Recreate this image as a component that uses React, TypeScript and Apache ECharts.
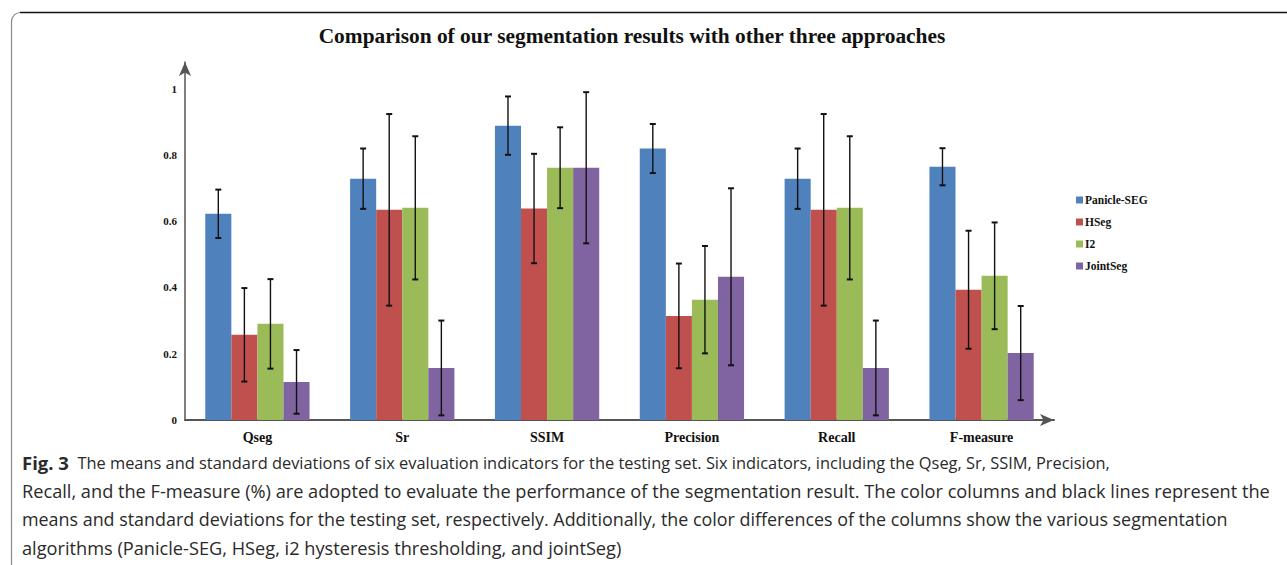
import React, { useEffect, useRef } from "react";
import * as echarts from "echarts";

const categories = ["Qseg", "Sr", "SSIM", "Precision", "Recall", "F-measure"];
const seriesNames = ["Panicle-SEG", "HSeg", "I2", "JointSeg"];
const panicleMean = [0.622, 0.728, 0.888, 0.819, 0.728, 0.764];
const panicleStd = [0.073, 0.091, 0.088, 0.074, 0.091, 0.056];
const hsegMean = [0.257, 0.634, 0.638, 0.314, 0.634, 0.393];
const hsegStd = [0.141, 0.289, 0.165, 0.158, 0.289, 0.178];
const i2Mean = [0.29, 0.64, 0.761, 0.363, 0.64, 0.435];
const i2Std = [0.135, 0.216, 0.122, 0.162, 0.216, 0.161];
const jointMean = [0.115, 0.157, 0.761, 0.432, 0.157, 0.202];
const jointStd = [0.096, 0.143, 0.228, 0.267, 0.143, 0.142];
const yTicks = ["0", "0.2", "0.4", "0.6", "0.8", "1"];

const colors = ["#4F81BD", "#C0504D", "#9BBB59", "#8064A2"];

const captionLines = [
  "The means and standard deviations of six evaluation indicators for the testing set. Six indicators, including the Qseg, Sr, SSIM, Precision,",
  "Recall, and the F-measure (%) are adopted to evaluate the performance of the segmentation result. The color columns and black lines represent the",
  "means and standard deviations for the testing set, respectively. Additionally, the color differences of the columns show the various segmentation",
  "algorithms (Panicle-SEG, HSeg, i2 hysteresis thresholding, and jointSeg)",
];
const captionSizes = [16.4, 18.2, 17.9, 18.2];

const BAR_FRAC = 0.18;

export default function App() {
  const ref = useRef<HTMLDivElement>(null);
  useEffect(() => {
    if (!ref.current) return;
    const chart = echarts.init(ref.current, null, { renderer: "svg" });
    const means = [panicleMean, hsegMean, i2Mean, jointMean];
    const stds = [panicleStd, hsegStd, i2Std, jointStd];
    const serifBold = { fontFamily: "Liberation Serif", fontWeight: "bold" as const, color: "#111" };

    const barSeries = seriesNames.map((name, k) => ({
      name,
      type: "bar",
      data: means[k],
      barWidth: BAR_FRAC * 100 + "%",
      barGap: "0%",
      itemStyle: { color: colors[k] },
    }));

    const errSeries = seriesNames.map((name, k) => ({
      name: "err-" + name,
      type: "custom",
      z: 5,
      data: categories.map((c, i) => [i, means[k][i], stds[k][i]]),
      encode: { x: 0, y: 1 },
      renderItem: (params: any, api: any) => {
        const ci = api.value(0);
        const mean = api.value(1);
        const sd = api.value(2);
        const base = api.coord([ci, mean]);
        const top = api.coord([ci, mean + sd]);
        const bot = api.coord([ci, Math.max(0, mean - sd)]);
        const band = api.size([1, 0])[0];
        const bw = band * BAR_FRAC;
        const x = base[0] + (k - 1.5) * bw;
        const cap = 3;
        const st = { stroke: "#111", lineWidth: 1.4 };
        return {
          type: "group",
          children: [
            { type: "line", shape: { x1: x, y1: top[1], x2: x, y2: bot[1] }, style: st },
            { type: "line", shape: { x1: x - cap, y1: top[1], x2: x + cap, y2: top[1] }, style: { ...st, lineWidth: 2 } },
            { type: "line", shape: { x1: x - cap, y1: bot[1], x2: x + cap, y2: bot[1] }, style: { ...st, lineWidth: 2 } },
          ],
        };
      },
    }));

    const captionGraphics: any[] = captionLines.map((line, i) => ({
      type: "text",
      x: 22,
      y: 462 + i * 28.7,
      style: {
        text: i === 0 ? "{b|Fig. 3}  " + line : line,
        font: captionSizes[i] + "px 'Open Sans'",
        fill: "#2a2a2a",
        verticalAlign: "middle",
        rich: { b: { fontFamily: "Open Sans", fontWeight: "bold", fontSize: 18.5, fill: "#2a2a2a", color: "#2a2a2a" } },
      },
    }));

    chart.setOption({
      animation: false,
      backgroundColor: "#fff",
      color: colors,
      title: {
        text: "Comparison of our segmentation results with other three approaches",
        left: 627,
        textAlign: "center",
        top: 20,
        textStyle: { fontFamily: "Liberation Serif", fontWeight: "bold", fontSize: 21.4, color: "#111" },
      },
      legend: {
        data: seriesNames,
        orient: "vertical",
        left: 1071,
        top: 189,
        itemWidth: 7,
        itemHeight: 7,
        itemGap: 10,
        icon: "rect",
        textStyle: { ...serifBold, fontSize: 11.5, padding: [0, 0, 0, -3] },
      },
      grid: { left: 185, right: 233, top: 62, bottom: 145 },
      xAxis: {
        type: "category",
        data: categories,
        axisTick: { show: false },
        axisLine: { lineStyle: { color: "#555", width: 2 }, symbol: ["none", "arrow"], symbolSize: [9, 14] },
        axisLabel: { ...serifBold, fontSize: 14, margin: 10 },
      },
      yAxis: {
        type: "value",
        min: 0,
        max: 1.08,
        interval: 0.2,
        splitLine: { show: false },
        axisTick: { show: false },
        axisLine: { show: true, lineStyle: { color: "#555", width: 1.5 }, symbol: ["none", "arrow"], symbolSize: [9, 14] },
        axisLabel: {
          ...serifBold,
          fontSize: 11,
          margin: 8,
          formatter: (v: number) => {
            const idx = Math.round(v / 0.2);
            return Math.abs(v - idx * 0.2) < 1e-6 && idx < yTicks.length ? yTicks[idx] : "";
          },
        },
      },
      series: [...barSeries, ...errSeries],
      graphic: [
        {
          type: "rect",
          shape: { x: 11.5, y: 12.5, width: 1320, height: 590, r: 9 },
          style: { fill: "none", stroke: "#8a8a8a", lineWidth: 1.2 },
          silent: true,
        },
        {
          type: "line",
          shape: { x1: 20, y1: 12.5, x2: 1287, y2: 12.5 },
          style: { stroke: "#111", lineWidth: 1.4 },
          silent: true,
        },
        ...captionGraphics,
      ],
    });
    return () => chart.dispose();
  }, []);
  return (
    <div
      ref={ref}
      style={{ position: "fixed", left: 0, top: 0, width: 1287, height: 565, background: "#fff" }}
    />
  );
}
